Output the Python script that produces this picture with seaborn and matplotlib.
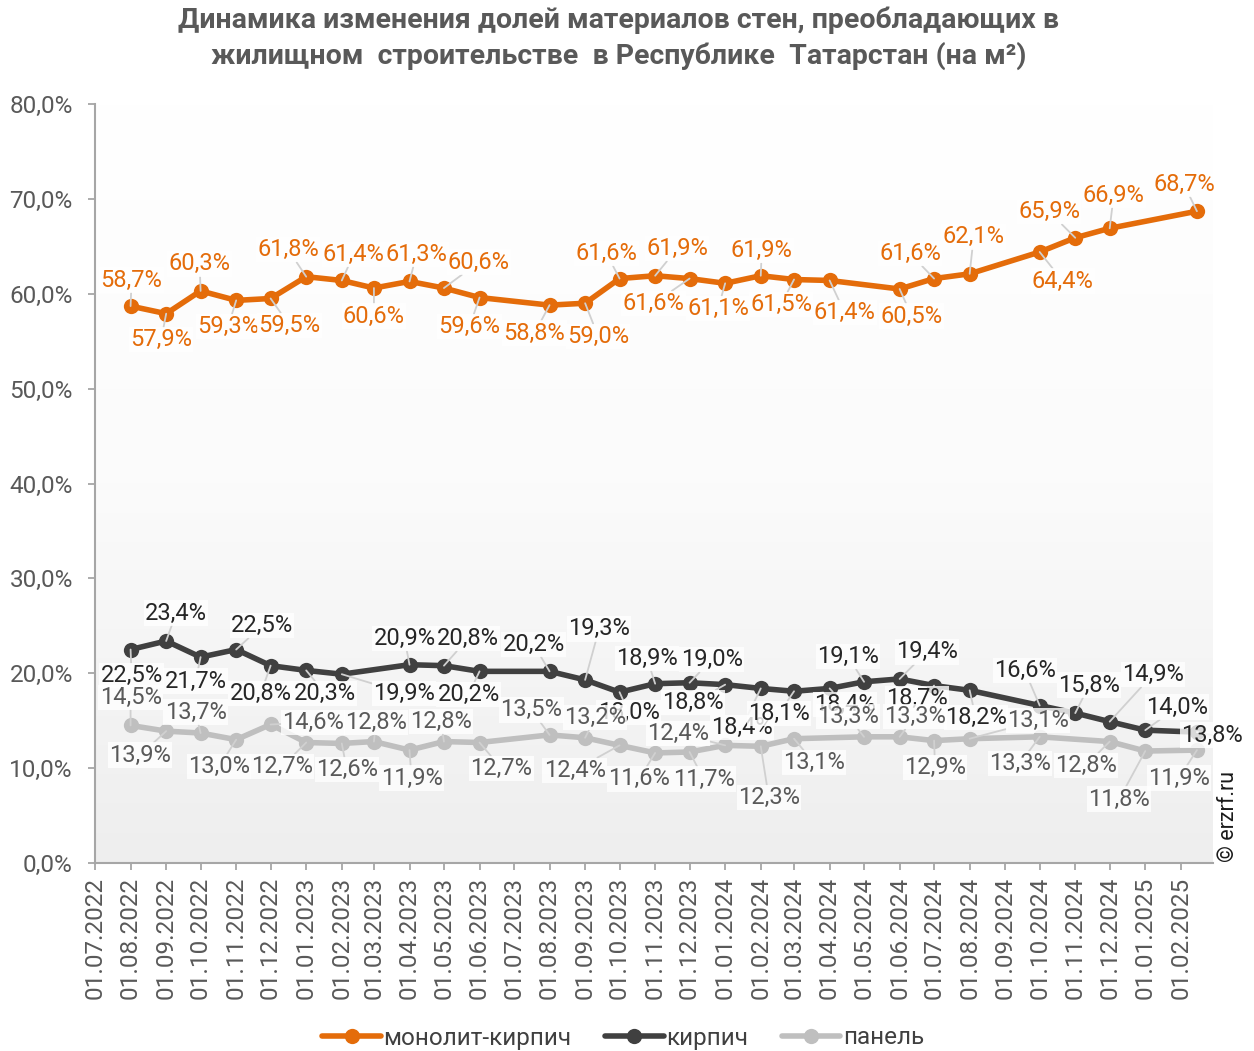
import matplotlib
matplotlib.use("Agg")
import matplotlib.pyplot as plt
from matplotlib.colors import LinearSegmentedColormap
from matplotlib.lines import Line2D
import seaborn as sns
import numpy as np
import pandas as pd

# ---------------- data ----------------
dates = [
    "2022-08-01", "2022-09-01", "2022-10-01", "2022-11-01", "2022-12-01",
    "2023-01-01", "2023-02-01", "2023-03-01", "2023-04-01", "2023-05-01", "2023-06-01",
    "2023-07-01", "2023-08-01", "2023-09-01", "2023-10-01", "2023-11-01", "2023-12-01",
    "2024-01-01", "2024-02-01", "2024-03-01", "2024-04-01", "2024-05-01", "2024-06-01",
    "2024-07-01", "2024-08-01", "2024-09-01", "2024-10-01", "2024-11-01", "2024-12-01",
    "2025-01-01", "2025-02-15",
]
nan = np.nan
monolit = [58.7, 57.9, 60.3, 59.3, 59.5,
           61.8, 61.4, 60.6, 61.3, 60.6, 59.6, nan, 58.8, 59.0, 61.6, 61.9, 61.6,
           61.1, 61.9, 61.5, 61.4, nan, 60.5, 61.6, 62.1, nan, 64.4, 65.9, 66.9,
           nan, 68.7]
kirpich = [22.5, 23.4, 21.7, 22.5, 20.8,
           20.3, 19.9, nan, 20.9, 20.8, 20.2, nan, 20.2, 19.3, 18.0, 18.9, 19.0,
           18.8, 18.4, 18.1, 18.4, 19.1, 19.4, 18.7, 18.2, nan, 16.6, 15.8, 14.9,
           14.0, 13.8]
panel = [14.5, 13.9, 13.7, 13.0, 14.6,
         12.7, 12.6, 12.8, 11.9, 12.8, 12.7, nan, 13.5, 13.2, 12.4, 11.6, 11.7,
         12.4, 12.3, 13.1, nan, 13.3, 13.3, 12.9, 13.1, nan, 13.3, nan, 12.8,
         11.8, 11.9]
series_names = ["монолит-кирпич", "кирпич", "панель"]
title = ("Динамика изменения долей материалов стен, преобладающих в\n"
         "жилищном  строительстве  в Республике  Татарстан (на м²)")
y_ticks = [0, 10, 20, 30, 40, 50, 60, 70, 80]

# ---------------- label offsets (pixels, y up) ----------------
off_monolit = [(1, 26), (-5, -26), (-1, 27), (-8, -26), (19, -27),
               (-18, 27), (12, 26), (0, -28), (7, 27), (35, 26), (-10, -29), None, (-15, -28), (13, -33), (-13, 25), (22, 27), (-36, -25),
               (-7, -25), (1, 25), (-13, -25), (15, -32), None, (12, -27), (-24, 25), (4, 37), None, (23, -29), (-26, 26), (4, 33),
               None, (-13, 27)]
off_kirpich = [(1, -26), (10, 28), (-5, -24), (26, 24), (-10, -28),
               (19, -23), (62, -19), None, (-5, 26), (24, 27), (-11, -23), None, (-16, 27), (14, 51), (9, -20), (-8, 25), (22, 23),
               (-32, -18), (-19, -39), (-15, -22), (15, -16), (-16, 25), (27, 27), (-17, -13), (6, -27), None, (-15, 35), (14, 28), (43, 47),
               (32, 23), (15, -3)]
off_panel = [(0, 28), (-26, -24), (-5, 21), (-17, -27), (42, 2),
             (-24, -24), (5, -26), (2, 19), (2, -28), (-3, 20), (22, -26), None, (-18, 25), (10, 20), (-45, -25), (-16, -26), (14, -27),
             (-47, 12), (8, -51), (20, -24), None, (-16, 20), (15, 20), (1, -27), (68, 18), None, (-20, -27), None, (-24, -24),
             (-26, -48), (-18, -28)]

colors = ["#E46C0A", "#404040", "#BFBFBF"]
label_colors = ["#E46C0A", "#262626", "#595959"]
FS = 17.5
FS_LBL = 17

# ---------------- style ----------------
sns.set_theme(style="white")
plt.rcParams["font.family"] = ["Roboto", "DejaVu Sans"]

fig = plt.figure(figsize=(12.54, 10.51), dpi=100)
ax = fig.add_axes([95 / 1254, 1 - 863 / 1051, 1118 / 1254, 759 / 1051])

# gradient background
cmap = LinearSegmentedColormap.from_list("bg", ["#ffffff", "#fbfbfb", "#eeeeee"])
grad = np.linspace(0, 1, 256).reshape(-1, 1)
ax.imshow(grad, extent=[0, 1, 0, 1], transform=ax.transAxes, aspect="auto",
          cmap=cmap, zorder=0)

df = pd.DataFrame({
    "date": pd.to_datetime(dates * 3),
    "value": monolit + kirpich + panel,
    "series": [series_names[0]] * len(dates) + [series_names[1]] * len(dates) + [series_names[2]] * len(dates),
}).dropna()

sns.lineplot(data=df, x="date", y="value", hue="series", hue_order=series_names,
             palette=colors, marker="o", markersize=11, markeredgewidth=0,
             linewidth=4, estimator=None, legend=False, ax=ax, zorder=3)

# data labels
z = 10
for vals, offs, lc in zip([monolit, kirpich, panel], [off_monolit, off_kirpich, off_panel], label_colors):
    for d, v, o in zip(dates, vals, offs):
        if np.isnan(v) or o is None:
            continue
        txt = f"{v:.1f}%".replace(".", ",")
        ax.annotate(txt, xy=(pd.Timestamp(d), v), xytext=o, textcoords="offset pixels",
                    ha="center", va="center", fontsize=FS_LBL, color=lc, zorder=z,
                    bbox=dict(boxstyle="square,pad=0.05", fc="white", ec="none", alpha=0.8),
                    arrowprops=dict(arrowstyle="-", color="#d0d0d0", lw=1.3,
                                    shrinkA=0, shrinkB=0))
        z += 0.01

# axes
ax.set_xlim(pd.Timestamp("2022-07-01"), pd.Timestamp("2025-03-01"))
ax.set_ylim(0, 80)
tick_dates = pd.date_range("2022-07-01", "2025-02-01", freq="MS")
ax.set_xticks(tick_dates)
ax.set_xticklabels([t.strftime("%d.%m.%Y") for t in tick_dates], rotation=90,
                   ha="center", va="top")
ax.set_yticks(y_ticks)
ax.set_yticklabels([f"{t:.1f}%".replace(".", ",") for t in y_ticks])
ax.tick_params(axis="both", labelsize=FS, labelcolor="#595959", color="#a6a6a6",
               length=5, width=1.3, direction="out", pad=5, bottom=True, left=True)
ax.tick_params(axis="y", pad=11)
for s in ["top", "right"]:
    ax.spines[s].set_visible(False)
for s in ["left", "bottom"]:
    ax.spines[s].set_color("#a6a6a6")
    ax.spines[s].set_linewidth(1.5)
ax.set_xlabel("")
ax.set_ylabel("")
ax.grid(False)

# title
fig.text(0.493, 1 - 38.5 / 1051, title, ha="center", va="center", fontsize=20.5,
         fontweight="bold", color="#595959", linespacing=1.36)

# watermark
fig.text(1228 / 1254, 1 - 817 / 1051, "© erzrf.ru", rotation=90, ha="center",
         va="center", fontsize=15.5, color="#1a1a1a")

# legend
handles = [Line2D([0], [0], color=c, lw=4, marker="o", markersize=11, markeredgewidth=0)
           for c in colors]
fig.legend(handles, series_names, loc="center", bbox_to_anchor=(0.497, 1 - 1038 / 1051),
           ncol=3, frameon=False, fontsize=FS, handlelength=2.4, columnspacing=1.4,
           handletextpad=0.1, labelcolor="#404040")

fig.savefig("out.png", dpi=100)
